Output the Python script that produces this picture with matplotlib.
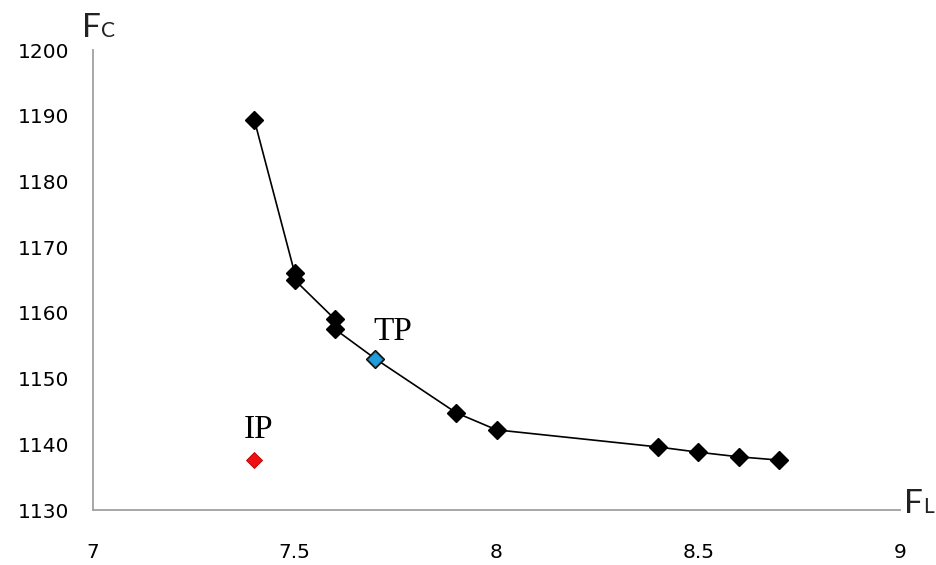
import matplotlib.pyplot as plt

# Точки фронта Парето
fl = [7.4, 7.5, 7.5, 7.6, 7.6, 7.7, 7.9, 8.0, 8.4, 8.5, 8.6, 8.7]
fc = [1189.3, 1166.0, 1165.0, 1159.0, 1157.5, 1153.0, 1144.8, 1142.2, 1139.6, 1138.8, 1138.1, 1137.6]

# Точка TP и идеальная точка IP
tp = (7.7, 1153.0)
ip = (7.4, 1137.6)

xticks = [7, 7.5, 8, 8.5, 9]
xtick_labels = ['7', '7.5', '8', '8.5', '9']
yticks = [1130, 1140, 1150, 1160, 1170, 1180, 1190, 1200]

fig = plt.figure(figsize=(9.37, 5.65), dpi=100)
ax = fig.add_axes([0.0993, 0.0973, 0.8612, 0.8142])

ax.plot(fl, fc, color='black', lw=1.2, marker='D', ms=9,
        mfc='black', mec='black', zorder=3)
ax.plot(*tp, marker='D', ms=8, mfc='#1e9fdc', mec='#1a3040', mew=0.8, ls='none', zorder=4)
ax.plot(*ip, marker='D', ms=8, mfc='#ee1111', mec='#b00000', mew=0.6, ls='none', zorder=4)

ax.text(tp[0] - 0.005, tp[1] + 2.9, 'TP', family='Liberation Serif', fontsize=24, va='baseline')
ax.text(ip[0] + 0.01, ip[1] + 3.4, 'IP', family='Liberation Serif', fontsize=24, va='baseline', ha='center')

ax.set_xlim(7, 9)
ax.set_ylim(1130, 1200)
ax.set_xticks(xticks, xtick_labels)
ax.set_yticks(yticks)
ax.tick_params(length=0, labelsize=14.5)
ax.tick_params(axis='x', pad=24)
ax.tick_params(axis='y', pad=17)

for s in ['top', 'right']:
    ax.spines[s].set_visible(False)
for s in ['left', 'bottom']:
    ax.spines[s].set_color('#a0a0a0')
    ax.spines[s].set_linewidth(1.3)

# Подписи осей
fig.text(82 / 937, 1 - 37 / 565, 'F', family='Lato', fontsize=24, color='#222222', va='baseline')
fig.text(101 / 937, 1 - 37 / 565, 'C', family='Lato', fontsize=15, color='#222222', va='baseline')
fig.text(904 / 937, 1 - 513 / 565, 'F', family='Lato', fontsize=24, color='#222222', va='baseline')
fig.text(923 / 937, 1 - 513 / 565, 'L', family='Lato', fontsize=15, color='#222222', va='baseline')

fig.savefig('out.png', dpi=100)
